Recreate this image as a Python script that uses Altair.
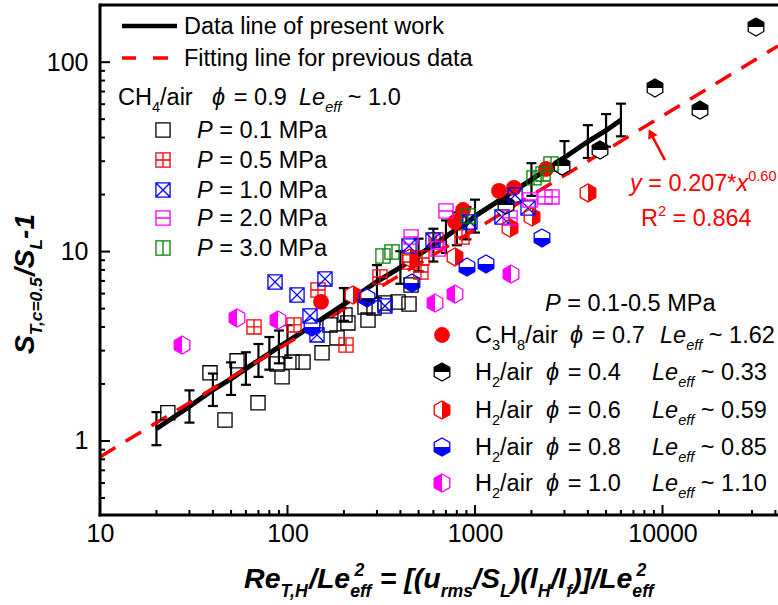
import altair as alt
import pandas as pd

FONT = "Liberation Sans"
PAD_L, PAD_T = 100, 5
W, H = 678, 510
X_DOMAIN = [10, 41300]
Y_DOMAIN = [0.4066, 200.4]

# ---------------- data ----------------
line_x = [20, 30, 40, 50, 60, 70, 80, 90, 100, 200, 300, 400, 500, 600, 700, 800, 900, 1000, 2000, 3000, 4000, 5000, 6000]
line_y = [1.16, 1.52, 1.86, 2.13, 2.41, 2.66, 2.90, 3.14, 3.35, 5.26, 6.95, 8.24, 9.60, 10.8, 12.0, 13.2, 14.1, 15.4, 24.0, 31.4, 38.1, 43.6, 49.5]
line_lo = [0.95, 1.25, 1.53, 1.75, 1.98, 2.18, 2.38, 2.57, 2.75, 4.31, 5.70, 6.76, 7.87, 8.86, 9.84, 10.8, 11.6, 12.6, 19.7, 25.7, 31.2, 35.8, 40.6]
line_hi = [1.42, 1.85, 2.27, 2.60, 2.94, 3.25, 3.54, 3.83, 4.09, 6.42, 8.48, 10.05, 11.7, 13.2, 14.6, 16.1, 17.2, 18.8, 29.3, 38.3, 46.5, 53.2, 60.4]

fit_x = [10, 41300]
fit_y = [0.824, 121.8]

ch4_01_x = [23.0, 38.6, 46.4, 53.8, 69.6, 87.9, 93.5, 105.7, 121, 152.8, 168.5, 183.7, 202.6, 210, 259, 268.7, 289.3, 331, 388.5, 444.6, 455.8]
ch4_01_y = [1.41, 2.29, 1.29, 2.65, 1.59, 2.55, 2.18, 2.61, 2.61, 2.92, 4.10, 3.50, 4.63, 4.20, 5.10, 4.35, 5.04, 5.35, 5.42, 5.29, 6.66]
ch4_05_x = [66.3, 108.3, 145.4, 205.1, 311.4, 450, 515, 521.6, 619.4, 852.4]
ch4_05_y = [4.00, 4.10, 6.27, 3.21, 7.34, 8.81, 7.80, 9.25, 11.51, 11.94]
ch4_10_x = [85.8, 112.4, 158.5, 131.8, 143.7, 331, 444.6, 597, 940, 1393, 1635, 1918]
ch4_10_y = [6.91, 5.90, 7.17, 4.57, 3.63, 5.16, 10.7, 11.51, 14.33, 15.23, 19.9, 16.99]
ch4_20_x = [455.8, 635, 700, 1537, 1965, 2362, 2575]
ch4_20_y = [11.94, 10.32, 16.38, 15.05, 18.73, 19.43, 19.43]
ch4_30_x = [323, 360.8, 917.6, 2064, 2306, 2543]
ch4_30_y = [9.48, 9.95, 15.42, 24.5, 25.7, 29.0]
c3h8_x = [150.9, 782, 863, 1343, 1614, 2391]
c3h8_y = [5.42, 14.33, 16.58, 20.9, 21.7, 27.3]
h2_04_x = [1463, 2911, 4642, 9120, 15850, 31520]
h2_04_y = [17.6, 28.3, 34.4, 73.1, 55.9, 153.4]
h2_06_x = [223.6, 450, 782, 1537, 2014, 4006]
h2_06_y = [5.90, 9.25, 9.37, 13.3, 15.23, 20.4]
h2_08_x = [135.1, 265.5, 461.3, 906.4, 1145, 2277]
h2_08_y = [4.00, 5.69, 6.83, 8.29, 8.60, 11.80]
h2_10_x = [27.4, 53.8, 89.0, 612, 782, 1556]
h2_10_y = [3.21, 4.46, 4.35, 5.35, 5.97, 7.61]

# annotation arrow (data coordinates)
arrow_x = [10300, 8660]
arrow_y = [30.4, 42.1]

# tick values
x_major = [10, 100, 1000, 10000]
x_minor = [20, 30, 40, 50, 60, 70, 80, 90, 200, 300, 400, 500, 600, 700, 800, 900,
           2000, 3000, 4000, 5000, 6000, 7000, 8000, 9000, 20000, 30000, 40000]
y_major = [1, 10, 100]
y_minor = [0.5, 0.6, 0.7, 0.8, 0.9, 2, 3, 4, 5, 6, 7, 8, 9, 20, 30, 40, 50, 60, 70, 80, 90, 200]

# ---------------- styles ----------------
RED, BLUE, MAG, GRN = "#ff0000", "#0000ff", "#ff00ff", "#008000"
PHI = "\u03d5"
SQ = "M-1,-1L1,-1L1,1L-1,1Z"
SHAPES = {
    "sq": SQ,
    "sq_plus": SQ + "M0,-1L0,1M-1,0L1,0",
    "sq_x": SQ + "M-1,-1L1,1M-1,1L1,-1",
    "sq_h": SQ + "M-1,0L1,0",
    "sq_v": SQ + "M0,-1L0,1",
}
HEX = "M0,-1L0.866,-0.5L0.866,0.5L0,1L-0.866,0.5L-0.866,-0.5Z"
HALF = {
    "hex_top": "M-0.866,0L-0.866,-0.5L0,-1L0.866,-0.5L0.866,0Z",
    "hex_bot": "M-0.866,0L-0.866,0.5L0,1L0.866,0.5L0.866,0Z",
    "hex_right": "M0,-1L0.866,-0.5L0.866,0.5L0,1Z",
    "hex_left": "M0,-1L-0.866,-0.5L-0.866,0.5L0,1Z",
}
SQ_SIZE, HEX_SIZE, CIRC_SIZE = 200, 324, 250

series = [
    (ch4_01_x, ch4_01_y, "black", "sq"),
    (ch4_05_x, ch4_05_y, RED, "sq_plus"),
    (ch4_10_x, ch4_10_y, BLUE, "sq_x"),
    (ch4_20_x, ch4_20_y, MAG, "sq_h"),
    (ch4_30_x, ch4_30_y, GRN, "sq_v"),
    (c3h8_x, c3h8_y, RED, "circle"),
    (h2_04_x, h2_04_y, "black", "hex_top"),
    (h2_06_x, h2_06_y, RED, "hex_right"),
    (h2_08_x, h2_08_y, BLUE, "hex_bot"),
    (h2_10_x, h2_10_y, MAG, "hex_left"),
]


def add_marker(store, kind, color, x, y):
    bg, fill, out = store
    if kind == "circle":
        fill.append(dict(x=x, y=y, shape="circle", col=color, sz=CIRC_SIZE))
    elif kind.startswith("hex"):
        bg.append(dict(x=x, y=y, shape=HEX, col="white", sz=HEX_SIZE))
        fill.append(dict(x=x, y=y, shape=HALF[kind], col=color, sz=HEX_SIZE))
        out.append(dict(x=x, y=y, shape=HEX, col=color, sz=HEX_SIZE))
    else:
        out.append(dict(x=x, y=y, shape=SHAPES[kind], col=color, sz=SQ_SIZE))


data_store = ([], [], [])
for xs, ys, col, kind in series:
    for xv, yv in zip(xs, ys):
        add_marker(data_store, kind, col, xv, yv)

# legend markers (page pixel positions)
leg_store = ([], [], [])
left_leg = [(163, 130, "black", "sq"), (163, 160, RED, "sq_plus"), (163, 190, BLUE, "sq_x"),
            (163, 218, MAG, "sq_h"), (163, 248, GRN, "sq_v")]
right_leg = [(442, 335, RED, "circle"), (442, 372, "black", "hex_top"), (442, 410, RED, "hex_right"),
             (442, 447, BLUE, "hex_bot"), (442, 483, MAG, "hex_left")]
for px, py, col, kind in left_leg + right_leg:
    add_marker(leg_store, kind, col, px - PAD_L, py - PAD_T)

XS = alt.Scale(type="log", domain=X_DOMAIN, nice=False)
YS = alt.Scale(type="log", domain=Y_DOMAIN, nice=False)
XA = alt.Axis(values=x_major, format="d", ticks=False, domain=False, grid=False, labelFont=FONT,
              labelFontSize=25, labelColor="black", labelPadding=6, title=None, labelFlush=False,
              labelOverlap=False)
YA = alt.Axis(values=y_major, format="d", ticks=False, domain=False, grid=False, labelFont=FONT,
              labelFontSize=25, labelColor="black", labelPadding=12, title=None, labelFlush=False,
              labelOverlap=False)


def X(f):
    return alt.X(f, scale=XS, axis=XA, title=None)


def Y(f):
    return alt.Y(f, scale=YS, axis=YA, title=None)


def enc_data():
    return dict(x=X("x:Q"), y=Y("y:Q"))


def enc_px():
    return dict(x=alt.X("x:Q", scale=None, axis=None), y=alt.Y("y:Q", scale=None, axis=None))


def marker_layers(store, encf):
    bg, fill, out = store
    common = dict(shape=alt.Shape("shape:N", scale=None, legend=None),
                  color=alt.Color("col:N", scale=None, legend=None),
                  size=alt.Size("sz:Q", scale=None, legend=None))
    lay = []
    if bg:
        lay.append(alt.Chart(pd.DataFrame(bg)).mark_point(filled=True, opacity=1, strokeWidth=0)
                   .encode(**encf(), **common))
    if fill:
        lay.append(alt.Chart(pd.DataFrame(fill)).mark_point(filled=True, opacity=1, strokeWidth=0)
                   .encode(**encf(), **common))
    if out:
        lay.append(alt.Chart(pd.DataFrame(out)).mark_point(filled=False, opacity=1, strokeWidth=1.3)
                   .encode(**encf(), **common))
    return lay


# ---------------- rich text helper ----------------
WR = {' ': 278, '!': 278, '(': 333, ')': 333, '*': 389, '+': 584, ',': 278, '-': 333, '.': 278, '/': 278,
      ':': 278, '=': 584, '[': 278, ']': 278, '~': 584, PHI: 650}
for d in "0123456789":
    WR[d] = 556
WR.update({'A': 667, 'B': 667, 'C': 722, 'D': 722, 'E': 667, 'F': 611, 'G': 778, 'H': 722, 'I': 278, 'J': 500,
           'K': 667, 'L': 556, 'M': 833, 'N': 722, 'O': 778, 'P': 667, 'Q': 778, 'R': 722, 'S': 667, 'T': 611,
           'U': 722, 'V': 667, 'W': 944, 'X': 667, 'Y': 667, 'Z': 611,
           'a': 556, 'b': 556, 'c': 500, 'd': 556, 'e': 556, 'f': 278, 'g': 556, 'h': 556, 'i': 222, 'j': 222,
           'k': 500, 'l': 222, 'm': 833, 'n': 556, 'o': 556, 'p': 556, 'q': 556, 'r': 333, 's': 500, 't': 278,
           'u': 556, 'v': 500, 'w': 722, 'x': 500, 'y': 500, 'z': 500})
WB = dict(WR)
WB.update({'[': 333, ']': 333, 'L': 611, 'a': 556, 'c': 556, 'e': 556, 'f': 333, 'i': 278, 'l': 278, 'm': 889,
           'n': 611, 'r': 389, 's': 556, 'u': 611, 't': 333})


def tw(s, bold=False):
    tab = WB if bold else WR
    return sum(tab.get(c, 556) for c in s) / 1000.0


SUBS, SUBDY, SUPDY = 0.62, 0.30, -0.42
text_rows = []


def rich(segs, x0, y0, fs, col="black", rot=False, center=False):
    items = []
    adv = 0.0
    for s in segs:
        if s[0] == "JUMP":
            adv = s[1] - x0
            continue
        if s[0] == "SS":
            _, sub, sup, st = s
            b = st == "b"
            f2 = fs * SUBS
            items.append((sub, adv, fs * SUBDY, f2, st))
            items.append((sup, adv + 0.15 * fs, fs * SUPDY, f2, st))
            adv += max(tw(sub, b), tw(sup, b)) * f2
            continue
        text, role, st = s
        b = st == "b"
        f = fs if role == "n" else fs * SUBS
        dy = 0.0 if role == "n" else (fs * SUBDY if role == "b" else fs * SUPDY)
        lead = len(text) - len(text.lstrip(" "))
        core = text.strip(" ")
        if core:
            items.append((core, adv + tw(" " * lead, b) * f, dy, f, st))
        adv += tw(text, b) * f
    shift = -adv / 2 if center else 0.0
    for t, a, dy, f, st in items:
        if rot:
            text_rows.append(dict(t=t, x=x0 + dy - PAD_L, y=y0 - (a + shift) - PAD_T, fs=f, col=col, st=st, rot=1))
        else:
            text_rows.append(dict(t=t, x=x0 + a + shift - PAD_L, y=y0 + dy - PAD_T, fs=f, col=col, st=st, rot=0))


LF = 23.5
rich([("Data line of present work", "n", "r")], 184, 34, LF)
rich([("Fitting line for previous data", "n", "r")], 184, 66, LF)
rich([("CH", "n", "r"), ("4", "b", "r"), ("/air", "n", "r"), ("JUMP", 212), (PHI, "n", "i"),
      (" = 0.9", "n", "r"), ("JUMP", 299), ("Le", "n", "i"), ("eff", "b", "i"), (" ~ 1.0", "n", "r")], 118, 105, LF)
for yb, p in zip([138, 168, 198, 226, 256], ["0.1", "0.5", "1.0", "2.0", "3.0"]):
    rich([("P", "n", "i"), (" = " + p + " MPa", "n", "r")], 197, yb, LF)
rich([("P", "n", "i"), (" = 0.1-0.5 MPa", "n", "r")], 545, 311, LF)
rich([("C", "n", "r"), ("3", "b", "r"), ("H", "n", "r"), ("8", "b", "r"), ("/air", "n", "r"), ("JUMP", 570),
      (PHI, "n", "i"), (" = 0.7", "n", "r"), ("JUMP", 660), ("Le", "n", "i"), ("eff", "b", "i"),
      (" ~ 1.62", "n", "r")], 475, 343, LF)
for yb, ph, le in zip([380, 418, 455, 491], ["0.4", "0.6", "0.8", "1.0"], ["0.33", "0.59", "0.85", "1.10"]):
    rich([("H", "n", "r"), ("2", "b", "r"), ("/air", "n", "r"), ("JUMP", 546), (PHI, "n", "i"),
          (" = " + ph, "n", "r"), ("JUMP", 652), ("Le", "n", "i"), ("eff", "b", "i"),
          (" ~ " + le, "n", "r")], 475, yb, LF)
# fit annotation
rich([("y", "n", "i"), (" = 0.207*", "n", "r"), ("x", "n", "i"), ("0.60", "p", "r")], 630, 191, LF, col=RED)
rich([("R", "n", "r"), ("2", "p", "r"), (" = 0.864", "n", "r")], 641, 226, LF, col=RED)
# axis titles
rich([("Re", "n", "b"), ("T,H", "b", "b"), ("/Le", "n", "b"), ("SS", "eff", "2", "b"),
      (" = [(", "n", "b"), ("u", "n", "b"), ("rms", "b", "b"), ("/S", "n", "b"), ("L", "b", "b"),
      (")(", "n", "b"), ("l", "n", "b"), ("H", "b", "b"), ("/l", "n", "b"), ("f", "b", "b"),
      (")]/Le", "n", "b"), ("SS", "eff", "2", "b")], 449, 588, 28.5, center=True)
rich([("S", "n", "b"), ("T,c=0.5", "b", "b"), ("/S", "n", "b"), ("L", "b", "b"), ("-1", "n", "b")],
     34, 284, 28, rot=True, center=True)

tdf = pd.DataFrame(text_rows)
text_layers = []
for st in ["r", "i", "b"]:
    for rot in [0, 1]:
        sub = tdf[(tdf.st == st) & (tdf.rot == rot)]
        if len(sub) == 0:
            continue
        mk = dict(align="left", baseline="alphabetic", font=FONT,
                  fontStyle="normal" if st == "r" else "italic",
                  fontWeight="bold" if st == "b" else "normal")
        if rot:
            mk["angle"] = 270
        text_layers.append(alt.Chart(sub).mark_text(**mk).encode(
            x=alt.X("x:Q", scale=None, axis=None), y=alt.Y("y:Q", scale=None, axis=None),
            text="t:N", size=alt.Size("fs:Q", scale=None, legend=None),
            color=alt.Color("col:N", scale=None, legend=None)))

# ---------------- layers ----------------
one = pd.DataFrame({"a": [0]})
line_df = pd.DataFrame({"x": line_x, "y": line_y, "lo": line_lo, "hi": line_hi})
fit_df = pd.DataFrame({"x": fit_x, "y": fit_y})

black_line = alt.Chart(line_df).mark_line(color="black", strokeWidth=5).encode(**enc_data())
err_rule = alt.Chart(line_df).mark_rule(color="black", strokeWidth=2.2).encode(
    x=X("x:Q"), y=Y("lo:Q"), y2="hi:Q")
cap_lo = alt.Chart(line_df).mark_rule(color="black", strokeWidth=2.2, xOffset=-5, x2Offset=5).encode(
    x=X("x:Q"), x2="x:Q", y=Y("lo:Q"))
cap_hi = alt.Chart(line_df).mark_rule(color="black", strokeWidth=2.2, xOffset=-5, x2Offset=5).encode(
    x=X("x:Q"), x2="x:Q", y=Y("hi:Q"))
fit_line = alt.Chart(fit_df).mark_line(color=RED, strokeWidth=3.5, strokeDash=[18, 12]).encode(**enc_data())

arrow_df = pd.DataFrame({"x": arrow_x, "y": arrow_y})
arrow_line = alt.Chart(arrow_df).mark_line(color=RED, strokeWidth=2.5).encode(**enc_data())
arrow_head = alt.Chart(arrow_df.iloc[[1]]).mark_point(shape="triangle-up", filled=True, opacity=1, size=110,
                                                      angle=332, color=RED).encode(**enc_data())

xmaj = alt.Chart(pd.DataFrame({"x": x_major})).mark_rule(color="black", strokeWidth=2).encode(
    x=X("x:Q"), y=alt.value(H), y2=alt.value(H - 10))
xmin = alt.Chart(pd.DataFrame({"x": x_minor})).mark_rule(color="black", strokeWidth=2).encode(
    x=X("x:Q"), y=alt.value(H), y2=alt.value(H - 5))
ymaj = alt.Chart(pd.DataFrame({"y": y_major})).mark_rule(color="black", strokeWidth=2).encode(
    y=Y("y:Q"), x=alt.value(0), x2=alt.value(10))
ymin = alt.Chart(pd.DataFrame({"y": y_minor})).mark_rule(color="black", strokeWidth=2).encode(
    y=Y("y:Q"), x=alt.value(0), x2=alt.value(5))

frame_top = alt.Chart(one).mark_rule(color="black", strokeWidth=3).encode(
    x=alt.value(0), x2=alt.value(W), y=alt.value(0))
frame_left = alt.Chart(one).mark_rule(color="black", strokeWidth=3).encode(
    x=alt.value(0), y=alt.value(-1.5), y2=alt.value(H + 1.5))
frame_bottom = alt.Chart(one).mark_rule(color="black", strokeWidth=3).encode(
    x=alt.value(-1.5), x2=alt.value(W), y=alt.value(H))

leg_line = alt.Chart(one).mark_rule(color="black", strokeWidth=4.5).encode(
    x=alt.value(122 - PAD_L), x2=alt.value(177 - PAD_L), y=alt.value(26 - PAD_T))
leg_dash1 = alt.Chart(one).mark_rule(color=RED, strokeWidth=3.5).encode(
    x=alt.value(122 - PAD_L), x2=alt.value(136 - PAD_L), y=alt.value(58 - PAD_T))
leg_dash2 = alt.Chart(one).mark_rule(color=RED, strokeWidth=3.5).encode(
    x=alt.value(153 - PAD_L), x2=alt.value(168 - PAD_L), y=alt.value(58 - PAD_T))

layers = ([black_line, err_rule, cap_lo, cap_hi, fit_line]
          + marker_layers(data_store, enc_data)
          + [arrow_line, arrow_head, xmaj, xmin, ymaj, ymin, frame_top, frame_left, frame_bottom,
             leg_line, leg_dash1, leg_dash2]
          + marker_layers(leg_store, enc_px)
          + text_layers)

chart = alt.layer(*layers).properties(
    width=W, height=H,
    padding={"left": PAD_L, "top": PAD_T, "right": 0, "bottom": 90},
    autosize=alt.AutoSizeParams(type="none"),
    background="white",
).configure_view(strokeWidth=0)

chart.save("out.html", embed_options={"renderer": "svg", "actions": False})
